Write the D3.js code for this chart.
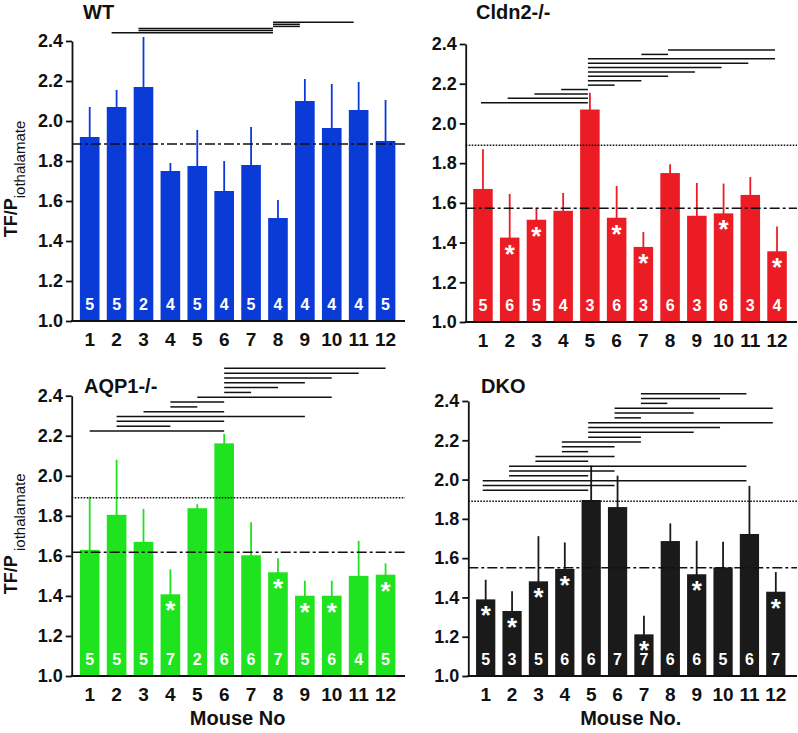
<!DOCTYPE html>
<html><head><meta charset="utf-8">
<script src="https://cdn.jsdelivr.net/npm/d3@7"></script>
<style>body{margin:0;background:#fff}svg{display:block;font-family:"Liberation Sans",Arial,sans-serif}</style>
</head><body><svg id="c" width="798" height="733"></svg>
<script>
// ---------- data ----------
const mice = ["1","2","3","4","5","6","7","8","9","10","11","12"];
const yTicks = [1.0,1.2,1.4,1.6,1.8,2.0,2.2,2.4];

const wtMean = [1.92,2.07,2.17,1.75,1.775,1.65,1.78,1.515,2.10,1.965,2.055,1.90];
const wtSD   = [0.15,0.085,0.25,0.04,0.18,0.15,0.19,0.09,0.11,0.22,0.14,0.205];
const wtN    = [5,5,2,4,5,4,5,4,4,4,4,5];
const wtStars = [];
const wtSig  = [[2,8],[3,8],[3,8],[8,9],[8,9],[8,11]];
const wtRefMean = 1.885;

const cldnMean = [1.67,1.425,1.515,1.56,2.07,1.525,1.378,1.75,1.535,1.547,1.64,1.356];
const cldnSD   = [0.20,0.22,0.06,0.09,0.085,0.16,0.075,0.045,0.165,0.15,0.09,0.125];
const cldnN    = [5,6,5,4,3,6,3,6,3,6,3,4];
const cldnStars = [2,3,6,7,10,12];
const cldnSig  = [[1,5],[2,5],[3,5],[4,5],[5,6],[5,7],[5,8],[5,9],[5,10],[5,11],[5,12],[7,8],[8,12]];
const cldnRefMean = 1.573;

const aqpMean = [1.63,1.805,1.67,1.408,1.838,2.162,1.603,1.518,1.401,1.401,1.50,1.506];
const aqpSD   = [0.265,0.275,0.165,0.125,0.02,0.047,0.165,0.07,0.075,0.075,0.175,0.057];
const aqpN    = [5,5,5,7,2,6,6,7,5,6,4,5];
const aqpStars = [4,8,9,10,12];
const aqpSig  = [[1,6],[2,4],[2,6],[2,9],[3,6],[4,5],[4,6],[5,10],[6,7],[6,8],[6,9],[6,10],[6,11],[6,12]];
const aqpRefMean = 1.618;

const dkoMean = [1.39,1.331,1.482,1.545,1.896,1.86,1.212,1.687,1.518,1.553,1.723,1.429];
const dkoSD   = [0.10,0.10,0.23,0.135,0.175,0.16,0.095,0.09,0.17,0.13,0.245,0.10];
const dkoN    = [5,3,5,6,6,7,7,6,6,5,6,7];
const dkoStars = [1,2,3,4,7,9,12];
const dkoSig  = [[1,5],[1,6],[1,11],[2,5],[2,6],[2,11],[3,5],[3,6],[4,5],[4,6],[4,7],[5,7],[5,9],[5,10],[5,12],[6,7],[6,9],[6,12],[7,8],[7,10],[7,11]];
const dkoRefMean = 1.551;

const wtGlobalMean = 1.89;

// ---------- layout / style ----------
const panels = [
 {title:"WT", color:"#0b3bd6", mean:wtMean, sd:wtSD, n:wtN, stars:wtStars, sig:wtSig, refMean:wtRefMean, dotted:false,
  axisX:72, y0:321, y1:41, xr:[76.25,399], axisEnd:405, titleX:83, titleY:19, sigStart:32.7, sigStep:2.1, sigShift:-5,
  yLabel:"", xLabel:null},
 {title:"Cldn2-/-", color:"#ec1c24", mean:cldnMean, sd:cldnSD, n:cldnN, stars:cldnStars, sig:cldnSig, refMean:cldnRefMean, dotted:true,
  axisX:465.7, y0:322, y1:44, xr:[469.6,790.4], axisEnd:797, titleX:476, titleY:19, sigStart:102.7, sigStep:4.39, sigShift:-2,
  xLabel:null},
 {title:"AQP1-/-", color:"#1ee31e", mean:aqpMean, sd:aqpSD, n:aqpN, stars:aqpStars, sig:aqpSig, refMean:aqpRefMean, dotted:true,
  axisX:71.7, y0:676, y1:395.7, xr:[76.25,399], axisEnd:405, titleX:84, titleY:393, sigStart:431, sigStep:4.82, sigShift:0,
  xLabel:"Mouse No"},
 {title:"DKO", color:"#1a1a1a", mean:dkoMean, sd:dkoSD, n:dkoN, stars:dkoStars, sig:dkoSig, refMean:dkoRefMean, dotted:true,
  axisX:468.3, y0:676, y1:401, xr:[472.5,789], axisEnd:797, titleX:481, titleY:393, sigStart:490.3, sigStep:4.83, sigShift:-3,
  xLabel:"Mouse No."}
];

const svg = d3.select("#c");

panels.forEach(p => {
  const g = svg.append("g");
  const x = d3.scaleBand().domain(mice).range(p.xr).paddingInner(0.27).paddingOuter(0.135);
  const y = d3.scaleLinear().domain([1.0,2.4]).range([p.y0,p.y1]);
  const cx = i => x(mice[i]) + x.bandwidth()/2;

  // bars
  g.selectAll("rect.bar").data(p.mean).join("rect")
    .attr("x",(d,i)=>x(mice[i])).attr("width",x.bandwidth())
    .attr("y",d=>y(d)).attr("height",d=>y(1.0)-y(d)).attr("fill",p.color);
  // error bars (upper only)
  g.selectAll("line.err").data(p.mean).join("line")
    .attr("x1",(d,i)=>cx(i)).attr("x2",(d,i)=>cx(i))
    .attr("y1",d=>y(d)+1).attr("y2",(d,i)=>y(d+p.sd[i]))
    .attr("stroke",p.color).attr("stroke-width",1.8);

  // reference lines
  g.append("line").attr("x1",p.axisX).attr("x2",p.axisEnd)
    .attr("y1",y(p.refMean)).attr("y2",y(p.refMean))
    .attr("stroke","#111").attr("stroke-width",1.6).attr("stroke-dasharray","10,3,3,3");
  if (p.dotted) {
    g.append("line").attr("x1",p.axisX).attr("x2",p.axisEnd)
      .attr("y1",y(wtGlobalMean)).attr("y2",y(wtGlobalMean))
      .attr("stroke","#111").attr("stroke-width",1.5).attr("stroke-dasharray","1.6,1.4");
  }

  // n labels
  g.selectAll("text.n").data(p.n).join("text")
    .attr("x",(d,i)=>cx(i)).attr("y",y(1.0)-11)
    .attr("text-anchor","middle").attr("fill","#fff")
    .attr("font-size",16).attr("font-weight","bold").text(d=>d);
  // stars
  g.selectAll("text.star").data(p.stars).join("text")
    .attr("x",d=>cx(d-1)).attr("y",d=>y(p.mean[d-1])+25)
    .attr("text-anchor","middle").attr("fill","#fff")
    .attr("font-size",26).attr("font-weight","bold").text("*");

  // significance lines
  g.selectAll("line.sig").data(p.sig).join("line")
    .attr("x1",d=>cx(d[0]-1)+p.sigShift).attr("x2",d=>cx(d[1]-1)+p.sigShift)
    .attr("y1",(d,i)=>p.sigStart - i*p.sigStep).attr("y2",(d,i)=>p.sigStart - i*p.sigStep)
    .attr("stroke","#111").attr("stroke-width",1.5);

  // y axis
  const ya = g.append("g").attr("transform",`translate(${p.axisX},0)`)
    .call(d3.axisLeft(y).tickValues(yTicks).tickFormat(d3.format(".1f")).tickSize(6).tickSizeOuter(0).tickPadding(3));
  ya.selectAll("text").attr("font-size",18).attr("font-weight","bold").attr("fill","#111").attr("font-family",null);
  ya.selectAll("line,path").attr("stroke","#111").attr("stroke-width",1.8);

  // x axis
  const xa = g.append("g").attr("transform",`translate(0,${p.y0})`)
    .call(d3.axisBottom(x).tickSize(0).tickPadding(11.5));
  xa.select(".domain").remove();
  xa.selectAll("text").attr("font-size",19).attr("font-weight","bold").attr("fill","#111").attr("font-family",null);
  g.append("line").attr("x1",p.axisX-0.9).attr("x2",p.axisEnd).attr("y1",p.y0).attr("y2",p.y0)
    .attr("stroke","#111").attr("stroke-width",1.8);

  // title
  g.append("text").attr("x",p.titleX).attr("y",p.titleY)
    .attr("font-size",20).attr("font-weight","bold").attr("fill","#111").text(p.title);

  // x label
  if (p.xLabel) {
    g.append("text").attr("x",(p.xr[0]+p.xr[1])/2).attr("y",725)
      .attr("text-anchor","middle").attr("font-size",20).attr("font-weight","bold").attr("fill","#111").text(p.xLabel);
  }
  // y label (left panels)
  if (p.axisX < 200) {
    const cy = (p.y0 + p.y1)/2 - 2;
    const t = g.append("text").attr("transform",`translate(17,${cy}) rotate(-90)`)
      .attr("text-anchor","middle").attr("fill","#111");
    t.append("tspan").attr("font-size",18).attr("font-weight","bold").text("TF/P");
    t.append("tspan").attr("font-size",15).attr("dy",8).text(p.title==="WT" ? "iothalamate" : "\u00a0iothalamate");
  }
});
</script></body></html>
